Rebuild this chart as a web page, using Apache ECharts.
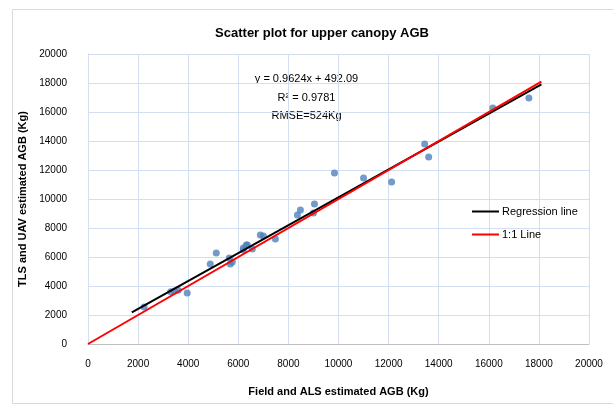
<!DOCTYPE html>
<html>
<head>
<meta charset="utf-8">
<script src="https://cdn.jsdelivr.net/npm/echarts@6/dist/echarts.min.js"></script>
<style>
  html, body { margin: 0; padding: 0; background: #fff; }
  #main { width: 613px; height: 404px; }
</style>
</head>
<body>
<div id="main"></div>
<script>
// field / ALS values (x) and TLS / UAV values (y)
var fieldAGB = [2240, 3300, 3450, 3600, 3960, 4880, 5120, 5640, 5680, 5760, 6200, 6320,
                6200, 6360, 6560, 6880, 7000, 7480, 8360, 8480, 9000, 9040,
                9840, 11000, 12120, 13440, 13600, 16160, 17600];
var tlsAGB = [2550, 3600, 3650, 3700, 3520, 5520, 6280, 5930, 5520, 5660, 6620, 6830,
              6480, 6830, 6550, 7520, 7450, 7240, 8900, 9240, 9030, 9660,
              11790, 11450, 11170, 13790, 12900, 16280, 16970];
// end points of the two lines
var regX = [1750, 18100];
var regY = [2180, 17910];
var oneX = [0, 18100];
var oneY = [0, 18100];
var annot = ['y = 0.9624x + 492.09', 'R\u00b2 = 0.9781', 'RMSE=524Kg'];

function pairs(a, b) {
    var out = [];
    for (var i = 0; i < a.length; i++) out.push([a[i], b[i]]);
    return out;
}
function plain(v) { return String(v); }

var font = 'Liberation Sans';
var chart = echarts.init(document.getElementById('main'));
chart.setOption({
    animation: false,
    textStyle: { fontFamily: font },
    title: {
        text: 'Scatter plot for upper canopy AGB',
        left: 317, top: 22, textAlign: 'center',
        textStyle: { fontSize: 13, fontWeight: 'bold', color: '#000', fontFamily: font }
    },
    grid: { left: 88, right: 24, top: 54, bottom: 60 },
    legend: {
        orient: 'vertical',
        left: 467, top: 201,
        icon: 'rect',
        itemWidth: 27, itemHeight: 2, itemGap: 12,
        textStyle: { fontSize: 11, color: '#000', padding: [0, 0, 0, -2] },
        data: ['Regression line', '1:1 Line']
    },
    xAxis: {
        type: 'value', min: 0, max: 20000, interval: 2000,
        name: 'Field and ALS estimated AGB (Kg)',
        nameLocation: 'middle', nameGap: 42,
        nameTextStyle: { fontSize: 11, fontWeight: 'bold', color: '#000' },
        axisLine: { show: true, lineStyle: { color: '#bfbfbf' } },
        axisTick: { show: false },
        axisLabel: { fontSize: 10, color: '#000', margin: 15, formatter: plain },
        splitLine: { lineStyle: { color: '#d3dff0' } }
    },
    yAxis: {
        type: 'value', min: 0, max: 20000, interval: 2000,
        name: 'TLS and UAV estimated AGB (Kg)',
        nameLocation: 'middle', nameGap: 60,
        nameTextStyle: { fontSize: 11, fontWeight: 'bold', color: '#000' },
        axisLine: { show: true, lineStyle: { color: '#d3dff0' } },
        axisTick: { show: false },
        axisLabel: { fontSize: 10, color: '#000', margin: 21, formatter: plain },
        splitLine: { lineStyle: { color: '#d3dff0' } }
    },
    graphic: [
        { type: 'rect', left: 10, top: 7, shape: { width: 601, height: 394 },
          style: { fill: 'none', stroke: '#d9d9d9', lineWidth: 1 }, silent: true, z: -1 },
        { type: 'text', left: 'center', top: 70, x: 8,
          style: { text: annot.join('\n'), textAlign: 'center', font: '11px ' + font,
                   lineHeight: 18.5, fill: '#000' } }
    ],
    series: [
        {
            type: 'scatter', name: 'points',
            data: pairs(fieldAGB, tlsAGB),
            symbolSize: 7,
            itemStyle: { color: '#4f81bd' }
        },
        {
            type: 'line', name: 'Regression line',
            data: pairs(regX, regY),
            symbol: 'none',
            lineStyle: { color: '#000', width: 2 },
            itemStyle: { color: '#000' }
        },
        {
            type: 'line', name: '1:1 Line',
            data: pairs(oneX, oneY),
            symbol: 'none',
            lineStyle: { color: '#ff0000', width: 2 },
            itemStyle: { color: '#ff0000' }
        }
    ]
});
</script>
</body>
</html>
